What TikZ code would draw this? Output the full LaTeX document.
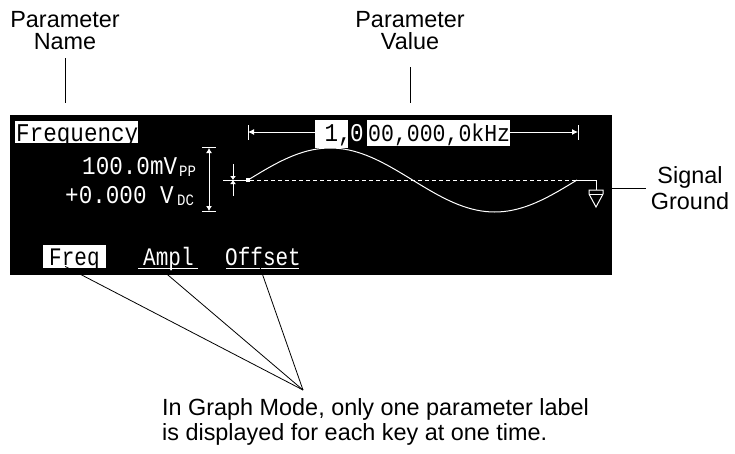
\documentclass[tikz,border=0pt]{standalone}
\usepackage{fontspec}
\setmainfont{Liberation Sans}
\newfontfamily\lcdfont{Liberation Mono}
\newcommand{\lcdtall}[1]{\scalebox{1}[1.13]{#1}}
\newcommand{\keytall}[1]{\scalebox{1}[1.2]{#1}}
\usetikzlibrary{arrows.meta}
\begin{document}
\begin{tikzpicture}[x=1pt,y=-1pt,
  lbl/.style={font=\fontsize{23.4}{22}\selectfont, inner sep=0pt},
  lcd/.style={font=\lcdfont\fontsize{22.6}{24}\selectfont, inner sep=0pt, text=white},
  lcdinv/.style={lcd, text=black},
  keyfont/.style={font=\lcdfont\fontsize{21}{22}\selectfont, inner sep=0pt, text=white},
  sub/.style={font=\lcdfont\fontsize{14}{14}\selectfont, inner sep=0pt, text=white},
  callout/.style={draw=black, line width=0.8pt},
  wline/.style={draw=white, line width=1pt},
]
\useasboundingbox (0,0) rectangle (735,453);

% display
\node[fill=black, minimum width=602pt, minimum height=160pt, inner sep=0pt, anchor=north west] (screen) at (10,115) {};

% parameter name
\fill[white] (15,121) rectangle (138,143);
\node[lcdinv, anchor=base west] (pn) at (16,141) {\lcdtall{Frequency}};

% parameter value with range arrow
\fill[white] (315,120) rectangle (348,148);
\fill[white] (367,120) rectangle (510,146);
\node[lcdinv, anchor=base east] (v1) at (352,141) {\lcdtall{1,}};
\node[lcd, anchor=base west] (v2) at (350,141) {\lcdtall{0}};
\node[lcdinv, font=\lcdfont\fontsize{21.5}{24}\selectfont, anchor=base west] (v3) at (368,141) {\lcdtall{00,000,0kHz}};
\draw[wline, {Latex[length=6pt,width=6pt]}-] (248,132) -- (315,132);
\draw[wline, -{Latex[length=6pt,width=6pt]}] (510,132) -- (578,132);
\draw[wline] (248,125) -- (248,140);
\draw[wline] (578,125) -- (578,140);

% amplitude and offset readouts
\node[lcd, anchor=base west] (amp) at (82,174) {\lcdtall{100.0mV}};
\node[sub, anchor=base west] (ampsub) at (179,176) {\lcdtall{PP}};
\node[lcd, anchor=base west] (off) at (65,203) {\lcdtall{+0.000 V}};
\node[sub, anchor=base west] (offsub) at (177,205) {\lcdtall{DC}};
\draw[wline, {Latex[length=5pt,width=6pt]}-{Latex[length=5pt,width=6pt]}] (209,148) -- (209,211);
\draw[wline] (202,147.5) -- (216,147.5);
\draw[wline] (202,211.5) -- (216,211.5);
\draw[wline, -{Latex[length=4pt,width=6pt]}] (233,164) -- (233,180);
\draw[wline, -{Latex[length=4pt,width=6pt]}] (233,196) -- (233,180);
\draw[wline] (223,180) -- (243,180);

% waveform
\draw[white, line width=1pt, dash pattern=on 4pt off 3pt] (243,180) -- (577,180);
\fill[white] (246,178) rectangle (250,182);
\draw[wline] plot[domain=0:360, samples=73] ({248+0.913889*\x}, {180-32*sin(\x)});
\draw[wline] (577,180) -- (596,180) -- (596,190);
\draw[wline] (589,190) -- (603,190) -- (603,194) -- (596,207) -- (589,194) -- cycle;
\draw[wline] (589,194) -- (603,194);

% soft keys
\node[fill=white, minimum width=63pt, minimum height=23pt, inner sep=0pt, anchor=north west] (freq) at (43,245) {};
\node[keyfont, text=black, anchor=base west] (freqtxt) at (49,265) {\keytall{Freq}};
\node[keyfont, anchor=base west] (ampl) at (143,265) {\keytall{Ampl}};
\draw[wline] (138,268.5) -- (198,268.5);
\node[keyfont, anchor=base west] (offset) at (225,265) {\keytall{Offset}};
\draw[wline] (226,268.5) -- (299,268.5);

% labels
\node[lbl, align=center, anchor=base] (pname) at (65,49) {Parameter\\Name};
\coordinate (pnameend) at (65,103);
\draw[callout] ([yshift=-9pt]pname.south) -- (pnameend);

\node[lbl, align=center, anchor=base] (pval) at (410,49) {Parameter\\Value};
\coordinate (pvalend) at (410,103);
\draw[callout] ([yshift=-18pt]pval.south) -- (pvalend);

\node[lbl, align=center, anchor=base, font=\fontsize{23.4}{26}\selectfont] (sg) at (690,209) {Signal\\Ground};
\coordinate (gnd) at (612,188);
\draw[callout] (gnd) -- ([xshift=-5pt]gnd -| sg.west);

\node[lbl, align=left, anchor=base west, font=\fontsize{23.4}{25}\selectfont] (note) at (162,440) {In Graph Mode, only one parameter label\\is displayed for each key at one time.};
\coordinate (conv) at (303,390);
\draw[callout] ([xshift=-9.5pt,yshift=2pt]freq.south) -- (conv);
\draw[callout] ([xshift=-7pt,yshift=1pt]ampl.south) -- (conv);
\draw[callout] ([xshift=-4pt,yshift=1pt]offset.south) -- (conv);
\end{tikzpicture}
\end{document}
